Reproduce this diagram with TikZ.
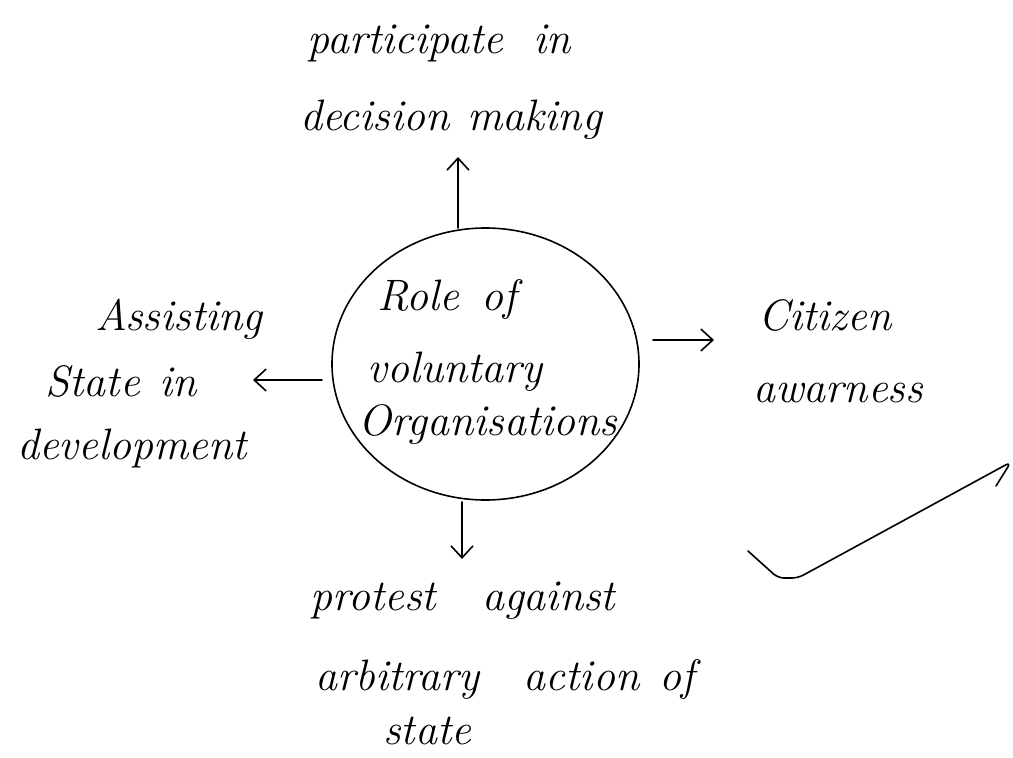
\documentclass[tikz,border=0pt]{standalone}
\usetikzlibrary{shapes.geometric,arrows.meta}
\begin{document}
\begin{tikzpicture}[x=1pt,y=-1pt,
  hand/.style={line width=1.6pt, line cap=round, line join=round},
  arr/.style={hand, -{Straight Barb[length=12pt,width=22pt,line width=1.6pt]}},
  lbl/.style={font=\fontsize{44}{52}\selectfont\itshape, inner sep=0pt, anchor=base west},
  ring/.style={ellipse, draw, line width=1.6pt, minimum width=307pt, minimum height=272pt, inner sep=0pt}]
\useasboundingbox (0,0) rectangle (1013,758);

% central circle
\node[ring] (circ) at (485.5,364) {};
\node[lbl] (c1) at (377,310) {Role\hspace{22pt}of};
\node[lbl] (c2) at (367,382) {voluntary};
\node[lbl] (c3) at (358,435) {Organisations};

% top
\node[lbl] (t1) at (307,53) {participate\hspace{30pt}in};
\node[lbl] (t2) at (300,130) {decision\hspace{18pt}making};

% left
\node[lbl] (l1) at (95,330) {Assisting};
\node[lbl] (l2) at (45,396) {State\hspace{20pt}in};
\node[lbl] (l3) at (17,459) {development};

% right
\node[lbl] (r1) at (758,330) {Citizen};
\node[lbl] (r2) at (753,402) {awarness};

% bottom
\node[lbl] (b1) at (310,610) {protest\hspace{46pt}against};
\node[lbl] (b2) at (315,690) {arbitrary\hspace{44pt}action\hspace{20pt}of};
\node[lbl] (b3) at (383,744) {state};

% connectors
\coordinate (upS) at (458,228);
\coordinate (upT) at (458,157);
\coordinate (lfS) at (322,380);
\coordinate (lfT) at (253,380);
\coordinate (rtS) at (653,340);
\coordinate (rtT) at (714,340);
\coordinate (dnS) at (462,502);
\coordinate (dnT) at (462,559);
\draw[arr] (upS) -- (upT);
\draw[arr] (lfS) -- (lfT);
\draw[arr] (rtS) -- (rtT);
\draw[arr] (dnS) -- (dnT);

% tick mark
\draw[hand, rounded corners=6pt] (748,551) -- (778,578) -- (798,578) -- (1011,462) -- (996,486);
\end{tikzpicture}
\end{document}
